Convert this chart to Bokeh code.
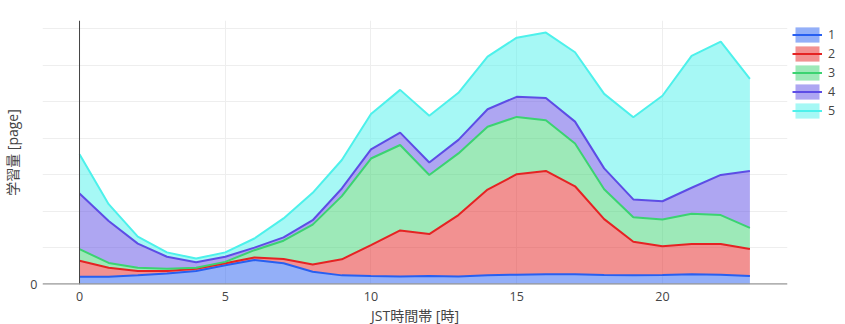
from bokeh.plotting import figure
from bokeh.models import (ColumnDataSource, Range1d, FixedTicker, Span, Legend, LegendItem)
from bokeh.embed import file_html
from bokeh.resources import INLINE

hours = list(range(24))
s1 = [0.20,0.20,0.24,0.29,0.36,0.52,0.66,0.57,0.34,0.24,0.22,0.21,0.22,0.21,0.24,0.26,0.27,0.27,0.25,0.24,0.25,0.27,0.26,0.22]
s2 = [0.44,0.25,0.12,0.07,0.06,0.05,0.07,0.12,0.20,0.44,0.85,1.26,1.15,1.68,2.35,2.75,2.83,2.41,1.53,0.92,0.79,0.83,0.84,0.74]
s3 = [0.32,0.13,0.09,0.06,0.03,0.04,0.20,0.50,1.09,1.73,2.37,2.34,1.62,1.69,1.72,1.57,1.39,1.17,0.82,0.67,0.73,0.83,0.79,0.58]
s4 = [1.52,1.15,0.66,0.33,0.15,0.14,0.07,0.09,0.12,0.21,0.25,0.34,0.34,0.37,0.48,0.55,0.61,0.60,0.57,0.49,0.50,0.71,1.10,1.56]
s5 = [1.08,0.46,0.19,0.12,0.10,0.12,0.25,0.52,0.75,0.78,0.97,1.17,1.28,1.29,1.44,1.62,1.79,1.90,2.04,2.25,2.89,3.61,3.65,2.52]
names = ["1", "2", "3", "4", "5"]
colors = ["#275ff1", "#e52323", "#3bd371", "#5d4de5", "#4df1eb"]
y_ticks = [0, 1, 2, 3, 4, 5, 6, 7]
x_ticks = [0, 5, 10, 15, 20]

src = ColumnDataSource(dict(x=hours, s1=s1, s2=s2, s3=s3, s4=s4, s5=s5))
keys = ["s1", "s2", "s3", "s4", "s5"]

FONT = "'Open Sans', 'Noto Sans CJK JP', sans-serif"

p = figure(frame_width=745, frame_height=264, output_backend="svg", toolbar_location=None,
           x_range=Range1d(-1.27, 24.29), y_range=Range1d(-0.01, 7.22),
           min_border_left=0, min_border_right=0, min_border_top=20, min_border_bottom=0)
p.outline_line_color = None

areas = p.varea_stack(keys, x="x", source=src, color=colors, fill_alpha=0.5)
lines = p.vline_stack(keys, x="x", source=src, color=colors, line_width=2)

p.xaxis.ticker = FixedTicker(ticks=x_ticks)
p.yaxis.ticker = FixedTicker(ticks=y_ticks)
p.yaxis.major_label_overrides = {t: "" for t in y_ticks if t != 0}
for ax in (p.xaxis[0], p.yaxis[0]):
    ax.axis_line_color = None
    ax.major_tick_line_color = None
    ax.minor_tick_line_color = None
    ax.major_tick_out = 0
    ax.major_tick_in = 0
    ax.major_label_text_font = FONT
    ax.major_label_text_font_size = "12.5px"
    ax.major_label_text_color = "#444444"
    ax.axis_label_text_font = FONT
    ax.axis_label_text_font_size = "14px"
    ax.axis_label_text_color = "#444444"
    ax.axis_label_text_font_style = "normal"
p.xaxis.axis_label = "JST時間帯 [時]"
p.yaxis.axis_label = "学習量 [page]"
p.xaxis.major_label_standoff = 7
p.xaxis.axis_label_standoff = 2
p.yaxis.major_label_standoff = 5
p.yaxis.axis_label_standoff = 5

p.grid.grid_line_color = "#eeeeee"
p.grid.grid_line_width = 1

p.add_layout(Span(location=0, dimension="height", line_color="#444444", line_width=1))
p.add_layout(Span(location=0, dimension="width", line_color="#999999", line_width=2))

items = [LegendItem(label=n, renderers=[a, l]) for n, a, l in zip(names, areas, lines)]
legend = Legend(items=items, location="top_left", padding=0, margin=5, spacing=0,
                glyph_width=30, glyph_height=19, label_height=19, label_standoff=6,
                label_text_font=FONT, label_text_font_size="12.5px", label_text_color="#444444",
                border_line_color=None, background_fill_alpha=0)
p.add_layout(legend, "right")

open("out.html", "w").write(file_html(p, INLINE))
